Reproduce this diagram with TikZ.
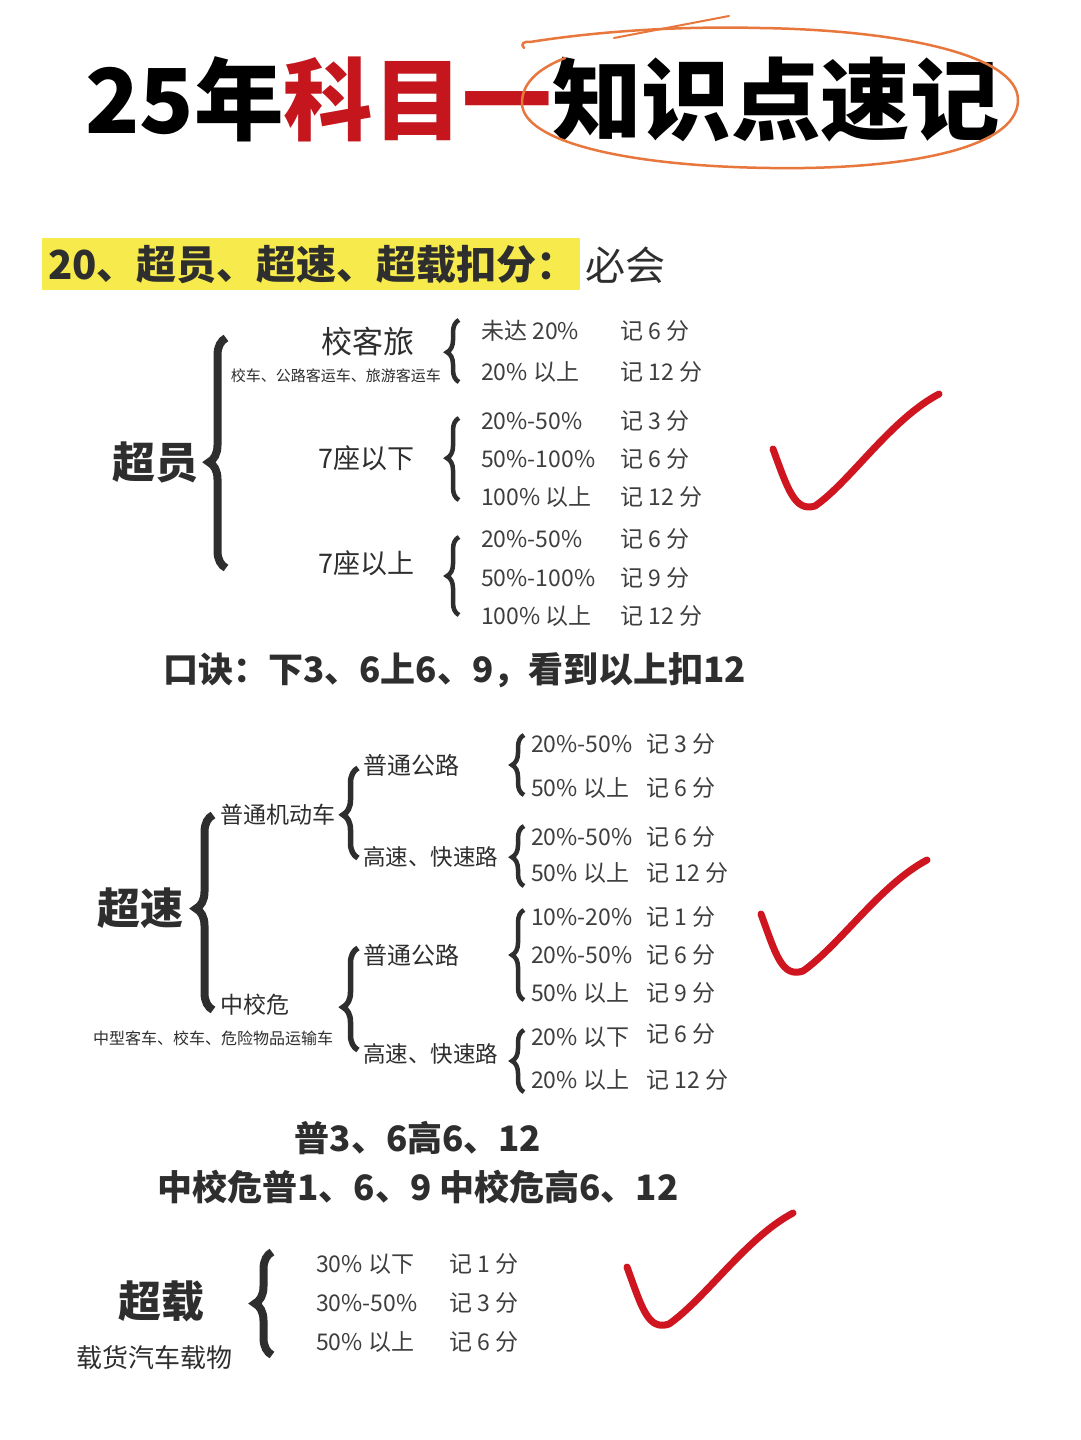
\documentclass[tikz,border=0pt]{standalone}
\usepackage{fontspec}
\setmainfont{Noto Sans CJK SC}
\usetikzlibrary{decorations.pathreplacing}

\definecolor{ink}{HTML}{2E2E2E}
\definecolor{rowgray}{HTML}{3E3E3E}
\definecolor{titlered}{HTML}{C4161C}
\definecolor{marker}{HTML}{E8773E}
\definecolor{hilite}{HTML}{F6EA4C}
\definecolor{checkred}{HTML}{CE1520}

\begin{document}
\begin{tikzpicture}[x=1pt, y=-1pt,
    title/.style={font=\bfseries\fontsize{89.5}{94}\selectfont, inner sep=0, anchor=base west},
    head/.style={font=\bfseries\fontsize{40}{44}\selectfont, text=ink, inner sep=0, anchor=west},
    key/.style={font=\bfseries\fontsize{43}{46}\selectfont, text=ink, inner sep=0, anchor=west},
    sub/.style={font=\fontsize{24}{28}\selectfont, text=ink, inner sep=0, anchor=west},
    note/.style={font=\fontsize{15}{18}\selectfont, text=ink, inner sep=0, anchor=west},
    row/.style={font=\fontsize{23}{26}\selectfont, text=rowgray, inner sep=0, anchor=west},
    rule/.style={font=\bfseries\fontsize{35}{40}\selectfont, text=ink, inner sep=0},
    bigbrace/.style={decorate, decoration={brace, amplitude=17pt, aspect=#1}, line width=8pt, draw=ink},
    midbrace/.style={decorate, decoration={brace, amplitude=15pt, aspect=#1}, line width=5.5pt, draw=ink},
    smallbrace/.style={decorate, decoration={brace, amplitude=12pt, aspect=#1}, line width=4.5pt, draw=ink},
    checkmark/.style={draw=checkred, line width=7pt, line cap=round, line join=round},
]
\useasboundingbox[fill=white] (0,0) rectangle (1080,1440);

% Title with hand drawn circle
\node[title] (ttl) at (85,133) {25年\textcolor{titlered}{科目一}知识点速记};
\draw[marker, line width=2.5pt, line cap=round]
  (524,48) .. controls (520,44) and (524,41) .. (530,42)
  .. controls (600,31) and (680,26) .. (760,28)
  .. controls (900,30) and (1018,55) .. (1018,100)
  .. controls (1018,150) and (900,170) .. (770,168)
  .. controls (620,166) and (522,140) .. (522,103)
  .. controls (522,85) and (535,70) .. (565,58);
\draw[marker, line width=2pt, line cap=round] (614,38) -- (729,16);

% Heading
\fill[hilite] (42,238) rectangle (580,290);
\node[head] (topic) at (48,265) {20、超员、超速、超载扣分：};
\node[head, font=\fontsize{40}{44}\selectfont] (must) at (585,265) {必会};

% 超员
\node[key] (cy) at (112,462) {超员};
\draw[bigbrace=0.46] (226,568) -- (226,338);

\node[sub, font=\fontsize{31}{34}\selectfont, anchor=east] (xkl) at (415,342) {校客旅};
\node[note, anchor=east] (xklnote) at (441,376) {校车、公路客运车、旅游客运车};
\draw[smallbrace=0.48] (459,382) -- (459,320);
\node[row] (a1) at (481,331) {未达 20\%};
\node[row] (a1p) at (620,331) {记 6 分};
\node[row] (a2) at (481,372) {20\% 以上};
\node[row] (a2p) at (620,372) {记 12 分};

\node[sub, font=\fontsize{27}{30}\selectfont, anchor=east] (below7) at (415,458) {7座以下};
\draw[smallbrace=0.51] (459,500) -- (459,418);
\node[row] (b1) at (481,421) {20\%-50\%};
\node[row] (b1p) at (620,421) {记 3 分};
\node[row] (b2) at (481,459) {50\%-100\%};
\node[row] (b2p) at (620,459) {记 6 分};
\node[row] (b3) at (481,497) {100\% 以上};
\node[row] (b3p) at (620,497) {记 12 分};

\node[sub, font=\fontsize{27}{30}\selectfont, anchor=east] (above7) at (415,563) {7座以上};
\draw[smallbrace=0.5] (459,615) -- (459,537);
\node[row] (c1) at (481,539) {20\%-50\%};
\node[row] (c1p) at (620,539) {记 6 分};
\node[row] (c2) at (481,578) {50\%-100\%};
\node[row] (c2p) at (620,578) {记 9 分};
\node[row] (c3) at (481,616) {100\% 以上};
\node[row] (c3p) at (620,616) {记 12 分};

\node[rule, anchor=west] (rhyme1) at (163,670) {口诀：下3、6上6、9，看到以上扣12};

% 超速
\node[key] (cs) at (97,908) {超速};
\draw[bigbrace=0.52] (213,1010) -- (213,815);
\node[sub, font=\fontsize{23}{26}\selectfont] (car) at (220,815) {普通机动车};
\node[sub, font=\fontsize{23}{26}\selectfont] (zxw) at (220,1005) {中校危};
\node[note, font=\fontsize{16}{19}\selectfont] (zxwnote) at (93,1038) {中型客车、校车、危险物品运输车};

\draw[midbrace=0.48] (358,858) -- (358,768);
\draw[midbrace=0.42] (358,1050) -- (358,948);
\node[sub] (road1) at (363,765) {普通公路};
\node[sub, font=\fontsize{22.5}{26}\selectfont] (fast1) at (363,857) {高速、快速路};
\node[sub] (road2) at (363,955) {普通公路};
\node[sub, font=\fontsize{22.5}{26}\selectfont] (fast2) at (363,1054) {高速、快速路};

\draw[smallbrace=0.5] (524,795) -- (524,735);
\node[row] (d1) at (531,744) {20\%-50\%};
\node[row] (d1p) at (646,744) {记 3 分};
\node[row] (d2) at (531,788) {50\% 以上};
\node[row] (d2p) at (646,788) {记 6 分};

\draw[smallbrace=0.48] (524,886) -- (524,826);
\node[row] (e1) at (531,837) {20\%-50\%};
\node[row] (e1p) at (646,837) {记 6 分};
\node[row] (e2) at (531,873) {50\% 以上};
\node[row] (e2p) at (646,873) {记 12 分};

\draw[smallbrace=0.5] (524,1000) -- (524,910);
\node[row] (f1) at (531,917) {10\%-20\%};
\node[row] (f1p) at (646,917) {记 1 分};
\node[row] (f2) at (531,955) {20\%-50\%};
\node[row] (f2p) at (646,955) {记 6 分};
\node[row] (f3) at (531,993) {50\% 以上};
\node[row] (f3p) at (646,993) {记 9 分};

\draw[smallbrace=0.5] (524,1092) -- (524,1030);
\node[row] (g1) at (531,1037) {20\% 以下};
\node[row] (g1p) at (646,1034) {记 6 分};
\node[row] (g2) at (531,1080) {20\% 以上};
\node[row] (g2p) at (646,1080) {记 12 分};

\node[rule] (rhyme2) at (418,1138) {普3、6高6、12};
\node[rule] (rhyme3) at (418,1187) {中校危普1、6、9 中校危高6、12};

% 超载
\node[key] (cz) at (118,1301) {超载};
\node[sub, font=\fontsize{26}{29}\selectfont] (cznote) at (76,1358) {载货汽车载物};
\draw[bigbrace=0.5] (272,1355) -- (272,1252);
\node[row] (h1) at (316,1264) {30\% 以下};
\node[row] (h1p) at (449,1264) {记 1 分};
\node[row] (h2) at (316,1303) {30\%-50\%};
\node[row] (h2p) at (449,1303) {记 3 分};
\node[row] (h3) at (316,1342) {50\% 以上};
\node[row] (h3p) at (449,1342) {记 6 分};

% check marks
\draw[checkmark] (773,449) .. controls (788,490) and (795,512) .. (815,506)
  .. controls (850,482) and (890,420) .. (939,394);
\draw[checkmark] (761,914) .. controls (776,955) and (782,978) .. (803,971)
  .. controls (840,945) and (880,885) .. (927,860);
\draw[checkmark] (627,1267) .. controls (642,1308) and (648,1331) .. (669,1324)
  .. controls (706,1298) and (746,1238) .. (793,1213);
\end{tikzpicture}
\end{document}
